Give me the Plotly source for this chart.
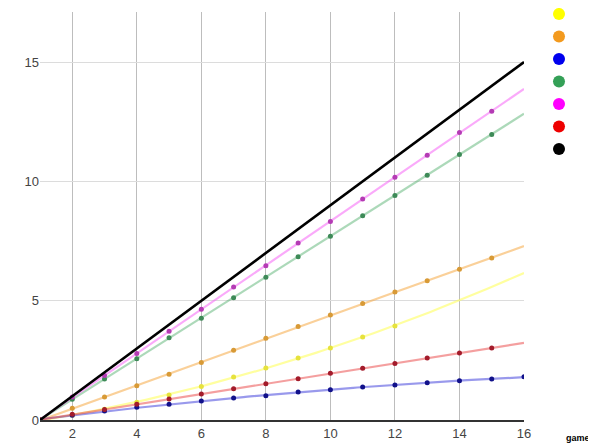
import numpy as np
import plotly.graph_objects as go

# ---- data ----
x_vals = list(range(1, 17))

yellow = [0, 0.20, 0.45, 0.74, 1.05, 1.40, 1.80, 2.18, 2.60, 3.02, 3.48, 3.94]
orange = [0, 0.49, 0.96, 1.44, 1.92, 2.41, 2.92, 3.43, 3.92, 4.40, 4.88, 5.36, 5.84, 6.32, 6.79]
blue = [0, 0.20, 0.38, 0.53, 0.66, 0.80, 0.92, 1.02, 1.17, 1.27, 1.38, 1.47, 1.56, 1.65, 1.72, 1.81]
green = [0, 0.87, 1.72, 2.57, 3.45, 4.26, 5.12, 5.98, 6.84, 7.70, 8.56, 9.41, 10.26, 11.13, 11.97]
magenta = [0, 0.96, 1.87, 2.79, 3.72, 4.64, 5.57, 6.46, 7.42, 8.32, 9.26, 10.17, 11.10, 12.05, 12.94]
red = [0, 0.24, 0.44, 0.66, 0.88, 1.09, 1.31, 1.52, 1.73, 1.96, 2.17, 2.37, 2.60, 2.81, 3.02]
black = [0, 1, 2, 3, 4, 5, 6, 7, 8, 9, 10, 11, 12, 13, 14, 15]

x_ticks = [2, 4, 6, 8, 10, 12, 14, 16]
y_ticks = [0, 5, 10, 15]
x_title = "game"

# (values, legend colour, trend colour, marker colour)
series = [
    (yellow, "#ffff00", "rgba(255,255,80,0.55)", "#e6e23c"),
    (orange, "#f39a1e", "rgba(245,170,70,0.55)", "#d89a36"),
    (blue, "#0000ee", "rgba(70,70,220,0.55)", "#11118a"),
    (green, "#34a057", "rgba(70,170,100,0.45)", "#3d8a57"),
    (magenta, "#ff00ff", "rgba(245,100,245,0.55)", "#b43ab4"),
    (red, "#ee0000", "rgba(235,80,80,0.55)", "#a31b2b"),
]

fig = go.Figure()

xs_dense = np.linspace(1, 16, 120)
for vals, col, tcol, mcol in series:
    xv = np.array(x_vals[:len(vals)], dtype=float)
    yv = np.array(vals, dtype=float)
    coef = np.polyfit(xv, yv, 2)
    fig.add_trace(go.Scatter(x=xs_dense, y=np.polyval(coef, xs_dense), mode="lines",
                             line=dict(color=tcol, width=2.2), showlegend=False,
                             hoverinfo="skip"))
for vals, col, tcol, mcol in series:
    fig.add_trace(go.Scatter(x=x_vals[:len(vals)], y=vals, mode="markers",
                             marker=dict(color=mcol, size=5), showlegend=False))

fig.add_trace(go.Scatter(x=x_vals, y=black, mode="lines",
                         line=dict(color="#000000", width=2.6), showlegend=False))

# legend-only entries (dots, no labels)
for col in [s[1] for s in series] + ["#000000"]:
    fig.add_trace(go.Scatter(x=[None], y=[None], mode="markers", name=" ",
                             marker=dict(color=col, size=12), showlegend=True))

# the page adds an 8px body margin, so the figure is 8px smaller on each axis
fig.update_layout(
    width=588, height=438,
    margin=dict(l=32, r=72, t=4, b=26, autoexpand=False),
    paper_bgcolor="white", plot_bgcolor="white",
    font=dict(family="Liberation Sans, Arial, sans-serif", size=12, color="#444444"),
    legend=dict(x=1.031, xanchor="left", y=1.035, yanchor="top",
                font=dict(size=15), itemwidth=30, bgcolor="rgba(0,0,0,0)",
                tracegroupgap=0),
    xaxis=dict(range=[1, 16], tickvals=x_ticks, showgrid=True, gridcolor="#bdbdbd",
               gridwidth=1, zeroline=False, showline=True, linecolor="#333333",
               linewidth=2, ticks="", tickfont=dict(size=13, color="#444444"),
               automargin=False),
    yaxis=dict(range=[0, 17.1], tickvals=y_ticks, showgrid=True, gridcolor="#dcdcdc",
               gridwidth=1, zeroline=False, showline=False, ticks="",
               tickfont=dict(size=13, color="#444444"), automargin=False),
    annotations=[dict(text="<b>" + x_title + "</b>", xref="paper", yref="paper",
                      x=1.111, y=-0.044, xanchor="center", yanchor="middle",
                      showarrow=False, font=dict(size=9, color="#000000"))],
)

fig.write_html("out.html")
